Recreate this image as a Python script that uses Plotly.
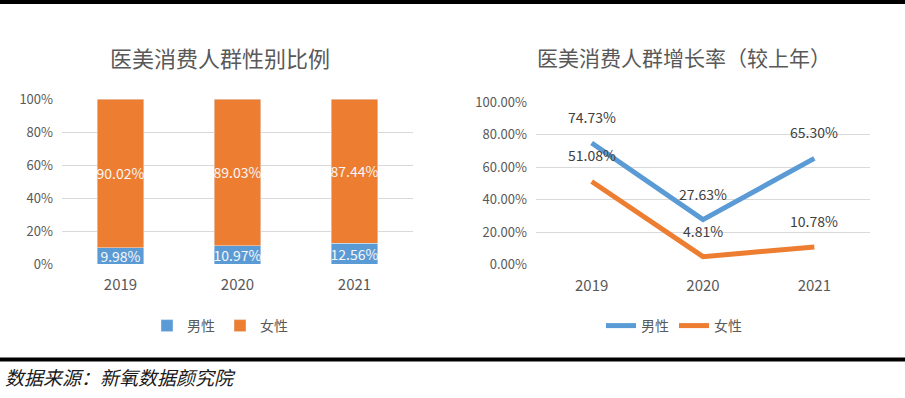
import plotly.graph_objects as go

years = ["2019", "2020", "2021"]
male_share = [9.98, 10.97, 12.56]
female_share = [90.02, 89.03, 87.44]
male_growth = [74.73, 27.63, 65.30]
female_growth = [51.08, 4.81, 10.78]
share_ticks = [0, 20, 40, 60, 80, 100]
share_tick_text = ["0%", "20%", "40%", "60%", "80%", "100%"]
growth_ticks = [0, 20, 40, 60, 80, 100]
growth_tick_text = ["0.00%", "20.00%", "40.00%", "60.00%", "80.00%", "100.00%"]

BLUE = "#5B9BD5"
ORANGE = "#ED7D31"
GREY = "#595959"
FONT = "Noto Sans CJK SC"
W, H = 905, 398


def px_x(p):
    return p / W


def px_y(p):
    return 1 - p / H


fig = go.Figure()

for vals, name, color in ((male_share, "男性", BLUE), (female_share, "女性", ORANGE)):
    fig.add_trace(go.Bar(x=years, y=vals, name=name, marker_color=color,
                         width=0.4, text=[f"{v:.2f}%" for v in vals],
                         textposition="inside", insidetextanchor="middle", textangle=0,
                         textfont=dict(color="#F7F7F7", size=14), legend="legend",
                         xaxis="x", yaxis="y"))

for vals, name, color in ((male_growth, "男性", BLUE), (female_growth, "女性", ORANGE)):
    fig.add_trace(go.Scatter(x=years, y=vals, name=name, mode="lines",
                             line=dict(color=color, width=5), legend="legend2",
                             xaxis="x2", yaxis="y2"))

annotations = []
for series in (male_growth, female_growth):
    for i, v in enumerate(series):
        annotations.append(dict(x=i, y=v, xref="x2", yref="y2", text=f"{v:.2f}%",
                                showarrow=False, yshift=26, xanchor="center",
                                yanchor="middle",
                                font=dict(family=FONT, size=14, color="#404040")))

annotations.append(dict(x=px_x(220), y=px_y(57), xref="paper", yref="paper",
                        xanchor="center", yanchor="middle",
                        text="医美消费人群性别比例", showarrow=False,
                        font=dict(family=FONT, size=22, color=GREY)))
annotations.append(dict(x=px_x(684), y=px_y(57), xref="paper", yref="paper",
                        xanchor="center", yanchor="middle",
                        text="医美消费人群增长率（较上年）", showarrow=False,
                        font=dict(family=FONT, size=21, color=GREY)))
annotations.append(dict(x=px_x(3), y=px_y(376), xref="paper", yref="paper",
                        xanchor="left", yanchor="middle",
                        text="<i>数据来源：新氧数据颜究院</i>", showarrow=False,
                        font=dict(family=FONT, size=19, color="#1a1a1a")))

shapes = [
    dict(type="line", xref="paper", yref="paper", x0=0, x1=1,
         y0=px_y(2), y1=px_y(2), line=dict(color="black", width=4)),
    dict(type="line", xref="paper", yref="paper", x0=0, x1=1,
         y0=px_y(359.5), y1=px_y(359.5), line=dict(color="black", width=4)),
]

fig.update_layout(
    width=W, height=H,
    margin=dict(l=0, r=0, t=0, b=0, pad=0, autoexpand=False),
    paper_bgcolor="white", plot_bgcolor="white", barmode="stack",
    font=dict(family=FONT, color=GREY),
    showlegend=True,
    uniformtext=dict(minsize=14, mode="show"),
    xaxis=dict(domain=[px_x(62), px_x(413)], type="category", range=[-0.5, 2.5],
               showgrid=False, showline=False, ticks="", automargin=False,
               ticklabelstandoff=10,
               tickfont=dict(size=15, color=GREY), anchor="y"),
    yaxis=dict(domain=[px_y(264), px_y(99)], range=[0, 100], tickmode="array",
               tickvals=share_ticks, ticktext=share_tick_text,
               gridcolor="#D9D9D9", gridwidth=1, zeroline=False, automargin=False,
               showline=False, ticks="", anchor="x", ticklabelstandoff=8,
               tickfont=dict(size=13, color=GREY)),
    xaxis2=dict(domain=[px_x(536), px_x(870)], type="category", range=[-0.5, 2.5],
                showgrid=False, showline=False, ticks="", automargin=False,
                ticklabelstandoff=10,
                tickfont=dict(size=15, color=GREY), anchor="y2"),
    yaxis2=dict(domain=[px_y(264.5), px_y(102)], range=[0, 100], tickmode="array",
                tickvals=growth_ticks, ticktext=growth_tick_text,
                gridcolor="#D9D9D9", gridwidth=1, automargin=False,
                zeroline=False, showline=False, ticks="", anchor="x2",
                ticklabelstandoff=8,
                tickfont=dict(size=13, color=GREY)),
    legend=dict(orientation="h", x=px_x(220), xanchor="center", y=px_y(326),
                yanchor="middle", font=dict(size=14, color=GREY), itemwidth=30,
                bgcolor="rgba(0,0,0,0)", traceorder="normal"),
    legend2=dict(orientation="h", x=px_x(674), xanchor="center", y=px_y(326),
                 yanchor="middle", font=dict(size=14, color=GREY), itemwidth=30,
                 bgcolor="rgba(0,0,0,0)", traceorder="normal"),
    annotations=annotations,
    shapes=shapes,
)

fig.write_html("out.html", config={"displayModeBar": False},
               post_script="document.body.style.margin='0';document.body.style.padding='0';")
